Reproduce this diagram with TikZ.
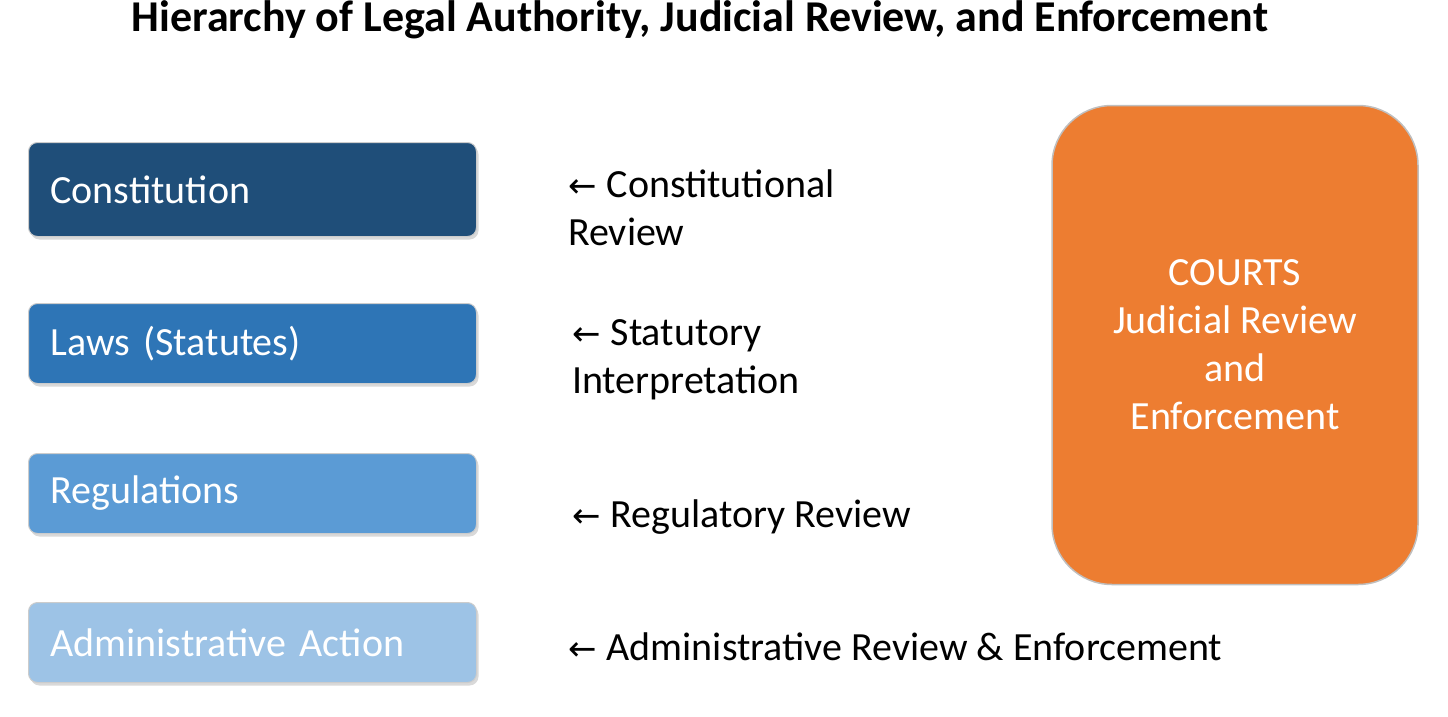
\documentclass[tikz,border=0pt]{standalone}
\usepackage{fontspec}
\setmainfont{Carlito}
\newfontfamily\arrfont{DejaVu Sans}
\usetikzlibrary{shadows}
\definecolor{cA}{HTML}{1F4E79}
\definecolor{cB}{HTML}{2E75B6}
\definecolor{cC}{HTML}{5B9BD5}
\definecolor{cD}{HTML}{9DC3E6}
\definecolor{cO}{HTML}{ED7D31}
\newcommand{\la}{{\arrfont\fontsize{34}{40}\selectfont←}\hspace{10pt}}
\begin{document}
\begin{tikzpicture}[x=1pt,y=-1pt,
  lvl/.style={draw=gray!40,line width=1pt,rounded corners=9pt,minimum width=448pt,anchor=north west,text=white,inner ysep=0pt,inner xsep=22pt,
    font=\fontsize{40}{48}\selectfont,text width=404pt,align=left,drop shadow={shadow xshift=2pt,shadow yshift=-3pt,opacity=0.3}},
  rev/.style={anchor=west,align=left,font=\fontsize{40}{48}\selectfont,inner sep=0pt}]
\useasboundingbox (0,0) rectangle (1448,717);
\node[font=\bfseries\fontsize{44}{50}\selectfont] (title) at (700,20) {Hierarchy of Legal Authority, Judicial Review, and Enforcement};
\node[lvl,fill=cA,minimum height=94pt] (con) at (28,142) {Constitution};
\node[lvl,fill=cB,minimum height=80pt] (law) at (28,303) {Laws (Statutes)};
\node[lvl,fill=cC,minimum height=80pt] (reg) at (28,453) {Regulations};
\node[lvl,fill=cD,minimum height=80pt] (adm) at (28,602) {Administrative Action};
\node[rev] (r1) at (568,208) {\la Constitutional\\Review};
\node[rev] (r2) at (572,360) {\la Statutory\\Interpretation};
\node[rev] (r3) at (572,517) {\la Regulatory Review};
\node[rev] (r4) at (568,647) {\la Administrative Review \& Enforcement};
\node[draw=gray!50,line width=1.5pt,fill=cO,rounded corners=60pt,minimum width=366pt,minimum height=479pt,
  text=white,align=center,font=\fontsize{40}{48}\selectfont] (courts) at (1235,345) {COURTS\\Judicial Review\\and\\Enforcement};
\end{tikzpicture}
\end{document}
